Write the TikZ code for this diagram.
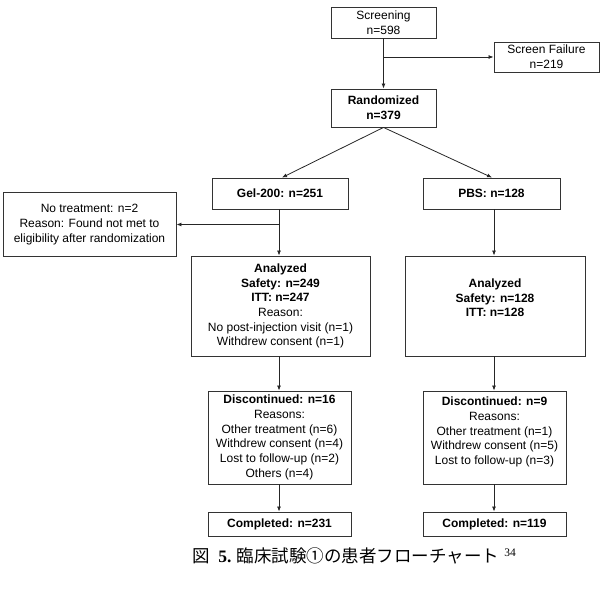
\documentclass[tikz,border=0pt]{standalone}
\usepackage{fontspec}
\setmainfont{Liberation Sans}
\newfontfamily\cjk{Noto Sans CJK JP}
\newfontfamily\capserif{Liberation Serif}
\usetikzlibrary{arrows.meta}
\begin{document}
\begin{tikzpicture}[x=1pt,y=-1pt,
  box/.style={draw=black!80, line width=0.9pt, inner sep=0pt, align=center,
    font=\fontsize{12}{14.7}\selectfont},
  txt/.style={inner sep=0pt, align=center, font=\fontsize{12}{14.7}\selectfont},
  conn/.style={draw=black!85, line width=0.8pt, -{Latex[length=5pt,width=4pt]}},
  plain/.style={draw=black!85, line width=0.8pt}]
\useasboundingbox (0,0) rectangle (603,591);
% boxes
\node[box, minimum width=105pt, minimum height=31pt] (screen) at (383.5,22.5) {Screening\\n=598};
\node[box, minimum width=105pt, minimum height=30pt] (fail) at (546.5,57) {Screen Failure\\n=219};
\node[box, minimum width=105pt, minimum height=38pt] (rand) at (383.5,108) {\textbf{Randomized}\\\textbf{n=379}};
\node[box, minimum width=136pt, minimum height=31pt] (gel) at (280,193.5) {\textbf{Gel-200: n=251}};
\node[box, minimum width=137pt, minimum height=31pt] (pbs) at (491.5,193.5) {\textbf{PBS: n=128}};
\node[box, minimum width=173pt, minimum height=64pt] (notreat) at (89.5,224.5) {No treatment: n=2\\Reason: Found not met to\\eligibility after randomization};
\node[box, minimum width=179pt, minimum height=100pt] (anaL) at (280.5,306) {\textbf{Analyzed}\\\textbf{Safety: n=249}\\\textbf{ITT: n=247}\\Reason:\\No post-injection visit (n=1)\\Withdrew consent (n=1)};
\node[box, minimum width=180pt, minimum height=100pt] (anaR) at (495,306) {};
\node[txt] (anaRt) at (495,298) {\textbf{Analyzed}\\\textbf{Safety: n=128}\\\textbf{ITT: n=128}};
\node[box, minimum width=143pt, minimum height=93pt] (discL) at (279.5,437.5) {\textbf{Discontinued: n=16}\\Reasons:\\Other treatment (n=6)\\Withdrew consent (n=4)\\Lost to follow-up (n=2)\\Others (n=4)};
\node[box, minimum width=143pt, minimum height=93pt] (discR) at (494.5,437.5) {};
\node[txt] (discRt) at (494.5,432) {\textbf{Discontinued: n=9}\\Reasons:\\Other treatment (n=1)\\Withdrew consent (n=5)\\Lost to follow-up (n=3)};
\node[box, minimum width=143pt, minimum height=24pt] (compL) at (279.5,524) {\textbf{Completed: n=231}};
\node[box, minimum width=143pt, minimum height=24pt] (compR) at (494.5,524) {\textbf{Completed: n=119}};
% connectors
\draw[conn] (screen.south) -- (rand.north);
\coordinate (b1) at (screen.south |- fail.west);
\draw[conn] (b1) -- (fail.west);
\draw[conn] (rand.south) -- ([xshift=2pt]gel.north);
\draw[conn] (rand.south) -- ([xshift=0.5pt]pbs.north);
\coordinate (gs) at ([xshift=-1pt]gel.south);
\draw[conn] (gs) -- (gs |- anaL.north);
\coordinate (b2) at (gs |- notreat.east);
\draw[conn] (b2) -- (notreat.east);
\draw[conn] (gs |- anaL.south) -- (gs |- discL.north);
\draw[conn] (gs |- discL.south) -- (gs |- compL.north);
\coordinate (ps) at ([xshift=2.5pt]pbs.south);
\draw[conn] (ps) -- (ps |- anaR.north);
\draw[conn] (ps |- anaR.south) -- (ps |- discR.north);
\draw[conn] (ps |- discR.south) -- (ps |- compR.north);
% caption
\node[inner sep=0pt, anchor=west] (cap) at (192,556) {\fontsize{17.5}{20}\selectfont\cjk 図\hspace{0.5em}{\capserif\bfseries 5.}\hspace{0.3em}臨床試験①の患者フローチャート\hspace{0.3em}{\capserif\fontsize{11.5}{12}\selectfont\raisebox{6pt}{34}}};
\end{tikzpicture}
\end{document}
